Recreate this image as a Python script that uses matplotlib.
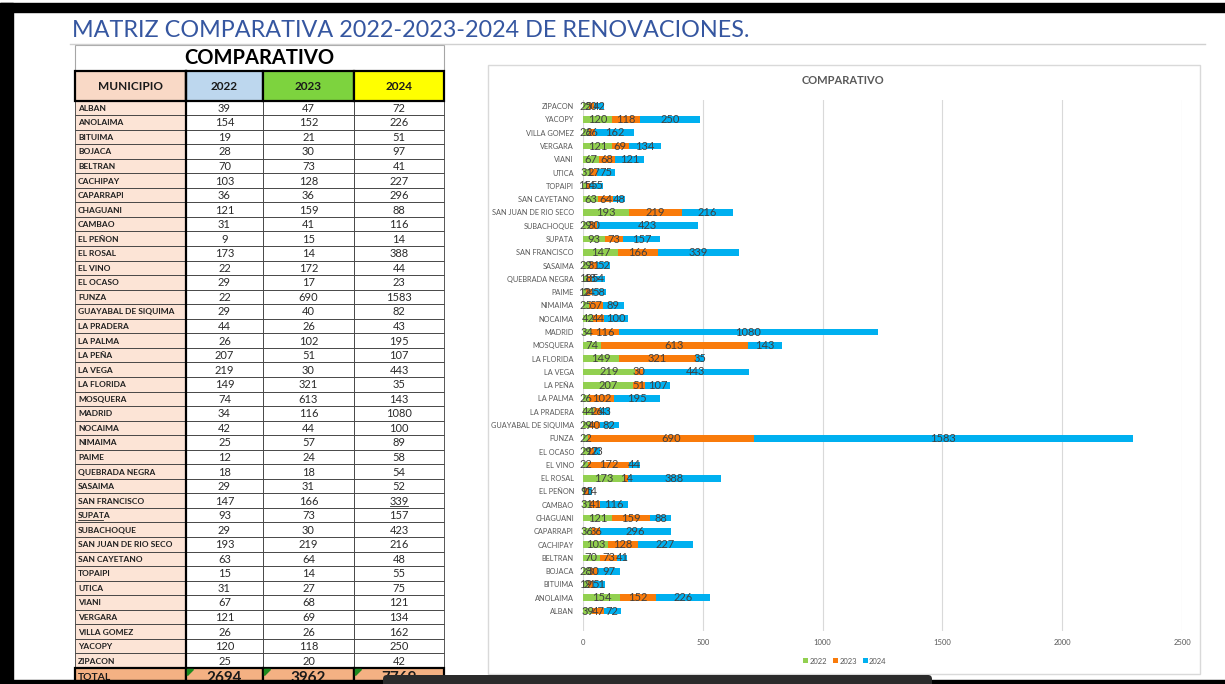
import matplotlib.pyplot as plt
from matplotlib.patches import Rectangle, FancyBboxPatch, Polygon
import numpy as np

# datos
municipios = ["ALBAN", "ANOLAIMA", "BITUIMA", "BOJACA", "BELTRAN", "CACHIPAY",
              "CAPARRAPI", "CHAGUANI", "CAMBAO", "EL PEÑON", "EL ROSAL", "EL VINO",
              "EL OCASO", "FUNZA", "GUAYABAL DE SIQUIMA", "LA PRADERA", "LA PALMA",
              "LA PEÑA", "LA VEGA", "LA FLORIDA", "MOSQUERA", "MADRID", "NOCAIMA",
              "NIMAIMA", "PAIME", "QUEBRADA NEGRA", "SASAIMA", "SAN FRANCISCO",
              "SUPATA", "SUBACHOQUE", "SAN JUAN DE RIO SECO", "SAN CAYETANO",
              "TOPAIPI", "UTICA", "VIANI", "VERGARA", "VILLA GOMEZ", "YACOPY", "ZIPACON"]
v2022 = [39, 154, 19, 28, 70, 103, 36, 121, 31, 9, 173, 22, 29, 22, 29, 44, 26, 207, 219, 149,
         74, 34, 42, 25, 12, 18, 29, 147, 93, 29, 193, 63, 15, 31, 67, 121, 26, 120, 25]
v2023 = [47, 152, 21, 30, 73, 128, 36, 159, 41, 15, 14, 172, 17, 690, 40, 26, 102, 51, 30, 321,
         613, 116, 44, 57, 24, 18, 31, 166, 73, 30, 219, 64, 14, 27, 68, 69, 26, 118, 20]
v2024 = [72, 226, 51, 97, 41, 227, 296, 88, 116, 14, 388, 44, 23, 1583, 82, 43, 195, 107, 443, 35,
         143, 1080, 100, 89, 58, 54, 52, 339, 157, 423, 216, 48, 55, 75, 121, 134, 162, 250, 42]
anios = ["2022", "2023", "2024"]

W, H = 1225, 684
FONT = "Lato"

fig = plt.figure(figsize=(W / 100, H / 100), dpi=100)
bg = fig.add_axes([0, 0, 1, 1])
bg.set_xlim(0, W)
bg.set_ylim(H, 0)
bg.axis("off")
bg.set_zorder(0)

# marco negro de la captura
bg.add_patch(Rectangle((0, 3), W, 9, color="black", zorder=20))
bg.add_patch(Rectangle((0, 3), 13, H, color="black", zorder=20))
bg.add_patch(Rectangle((0, 680), W, 5, color="black", zorder=20))
bg.add_patch(FancyBboxPatch((383, 675), 549, 14, boxstyle="round,pad=0,rounding_size=4",
                            fc="#2b2b2b", ec="none", zorder=21))

# titulo
titulo = bg.text(72, 37, "MATRIZ COMPARATIVA 2022-2023-2024 DE RENOVACIONES.",
                 fontsize=18, color="#3556A0", family=FONT, va="baseline", ha="left")
fig.canvas.draw()
ancho = titulo.get_window_extent().width
titulo.set_fontsize(18 * 676 / ancho)
bg.plot([70, 1205], [44, 44], color="#D0D0D0", lw=1)

# tabla
cols = [75, 186, 263, 354, 444]
bg.add_patch(Rectangle((75, 45), 369, 26, fc="white", ec="#A6A6A6", lw=0.8))
bg.text(259.5, 58, "COMPARATIVO", ha="center", va="center", fontsize=14.5,
        fontweight="bold", family=FONT, color="black")

head_cols = ["#F9D9C6", "#BDD7EE", "#7DD33E", "#FFFF00"]
head_txt = ["MUNICIPIO"] + anios
for j in range(4):
    bg.add_patch(Rectangle((cols[j], 71), cols[j + 1] - cols[j], 29.5,
                           fc=head_cols[j], ec="black", lw=1.6, zorder=3))
    bg.text((cols[j] + cols[j + 1]) / 2, 86, head_txt[j], ha="center", va="center",
            fontsize=8.5, fontweight="bold", family=FONT, color="#1a1a1a", zorder=4)

top, rh = 100.5, 14.55
datos = [v2022, v2023, v2024]
for i, nombre in enumerate(municipios):
    y0 = top + i * rh
    bg.add_patch(Rectangle((cols[0], y0), cols[1] - cols[0], rh, fc="#FCE4D6",
                           ec="#3a3a3a", lw=0.6))
    bg.text(78, y0 + rh / 2 + 0.5, nombre, ha="left", va="center", fontsize=6,
            fontweight="bold", family=FONT, color="#1f1f1f")
    for j in range(3):
        bg.add_patch(Rectangle((cols[j + 1], y0), cols[j + 2] - cols[j + 1], rh,
                               fc="white", ec="#3a3a3a", lw=0.6))
        bg.text((cols[j + 1] + cols[j + 2]) / 2, y0 + rh / 2 + 0.5, str(datos[j][i]),
                ha="center", va="center", fontsize=8, family=FONT, color="#2a2a2a")

# subrayados de la hoja
i_sf = municipios.index("SAN FRANCISCO")
xc = (cols[3] + cols[4]) / 2
bg.plot([xc - 9, xc + 9], [top + i_sf * rh + 12.3] * 2, color="#262626", lw=0.6)
i_sp = municipios.index("SUPATA")
bg.plot([78, 103], [top + i_sp * rh + 12.0] * 2, color="#262626", lw=0.6)

bg.plot([186, 186], [71, H], color="black", lw=1.6, zorder=5)

# fila total
yt = top + len(municipios) * rh
totales = ["TOTAL"] + [str(sum(d)) for d in datos]
for j in range(4):
    bg.add_patch(Rectangle((cols[j], yt), cols[j + 1] - cols[j], 20,
                           fc="#F4B183", ec="black", lw=1.6, zorder=6))
    if j == 0:
        bg.text(78, yt + 9.5, totales[j], ha="left", va="center", fontsize=7.5,
                fontweight="bold", family=FONT, color="#1a1a1a", zorder=7)
    else:
        bg.text((cols[j] + cols[j + 1]) / 2, yt + 10, totales[j], ha="center",
                va="center", fontsize=11, fontweight="bold", family=FONT,
                color="#1a1a1a", zorder=7)
        x = cols[j] + 1.5
        bg.add_patch(Polygon([(x, yt + 1.5), (x + 6, yt + 1.5), (x, yt + 7.5)],
                             color="#1E8A1E", zorder=8))

# marco del grafico
bg.add_patch(Rectangle((488, 65), 712, 609, fc="white", ec="#D9D9D9", lw=1))

# grafico de barras apiladas
ax = fig.add_axes([583 / W, 1 - 631 / H, 599 / W, (631 - 99.5) / H])
ax.set_zorder(1)
ax.patch.set_alpha(0)
y = np.arange(len(municipios))
colores = ["#92D050", "#F97B0B", "#00B0F0"]
izq = np.zeros(len(municipios))
for vals, col, lab in zip(datos, colores, anios):
    barras = ax.barh(y, vals, left=izq, height=0.5, color=col, label=lab, zorder=3)
    ax.bar_label(barras, label_type="center", fontsize=8, color="#404040",
                 family=FONT, zorder=4)
    izq = izq + np.array(vals)

ax.set_xlim(0, 2500)
ax.set_ylim(-1.5, 38.5)
ax.set_xticks(range(0, 2501, 500))
ax.set_yticks(y)
ax.set_yticklabels(municipios, fontsize=5.3, color="#595959", family=FONT)
ax.tick_params(axis="x", labelsize=5.5, labelcolor="#595959", length=0, pad=6)
ax.tick_params(axis="y", length=0, pad=6.5)
for lbl in ax.get_xticklabels():
    lbl.set_family(FONT)
ax.grid(axis="x", color="#D9D9D9", lw=0.8, zorder=0)
for s in ax.spines.values():
    s.set_visible(False)

fig.text(843 / W, 1 - 81 / H, "COMPARATIVO", ha="center", va="center", fontsize=8,
         fontweight="bold", color="#595959", family=FONT)
fig.legend(*ax.get_legend_handles_labels(), loc="center",
           bbox_to_anchor=(845 / W, 1 - 661 / H), ncol=3, frameon=False,
           prop={"family": FONT, "size": 5.5}, labelcolor="#595959",
           handlelength=0.6, handleheight=0.6, handletextpad=0.2, columnspacing=0.8)

fig.savefig("out.png", dpi=100)
